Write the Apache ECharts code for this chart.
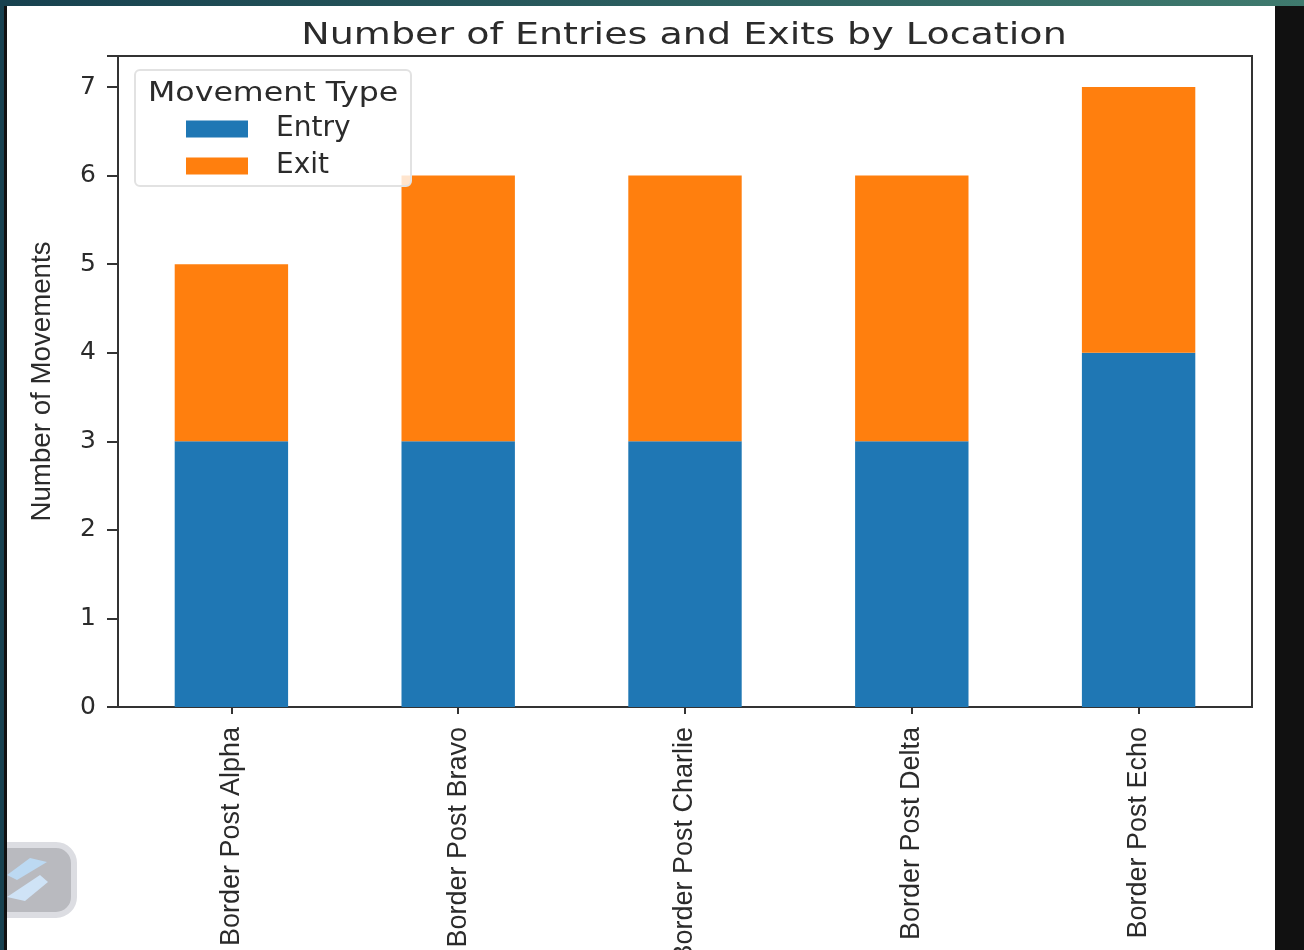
<!DOCTYPE html>
<html><head><meta charset="utf-8">
<style>html,body{margin:0;padding:0;background:#fff;overflow:hidden}#c{width:1304px;height:950px}</style>
<script src="https://cdn.jsdelivr.net/npm/echarts@6/dist/echarts.min.js"></script>
</head><body><div id="c"></div>
<script>
const categories = ["Border Post Alpha","Border Post Bravo","Border Post Charlie","Border Post Delta","Border Post Echo"];
const entry = [3,3,3,3,4];
const exit = [2,3,3,3,3];
const yTicks = [0,1,2,3,4,5,6,7];
const chartTitle = "Number of Entries and Exits by Location";
const yName = "Number of Movements";
const legendTitle = "Movement Type";
const narrow = '"Liberation Sans",sans-serif';
const wide = '"DejaVu Sans",sans-serif';
const ink = '#2b2b2b';
const chart = echarts.init(document.getElementById('c'), null, {renderer:'canvas', width:1304, height:950});
chart.setOption({
  animation:false,
  backgroundColor:'#ffffff',
  grid:{left:118, top:56, width:1134, height:651, containLabel:false, outerBoundsMode:'none', show:true, borderColor:'#333', borderWidth:2, backgroundColor:'transparent'},
  xAxis:{type:'category', data:categories,
    axisLine:{lineStyle:{color:'#333',width:2}},
    axisTick:{show:true, alignWithLabel:true, length:7, lineStyle:{color:'#333',width:2}, interval:0},
    axisLabel:{rotate:90, interval:0, margin:20, fontFamily:narrow, fontSize:27, color:ink, hideOverlap:false}},
  yAxis:{type:'value', min:0, max:7.35, interval:1, splitLine:{show:false},
    name:yName, nameLocation:'middle', nameGap:62, nameRotate:90,
    nameTextStyle:{fontFamily:narrow, fontSize:27.7, color:ink},
    axisLine:{show:true, lineStyle:{color:'#333',width:2}},
    axisTick:{show:true, length:11, lineStyle:{color:'#333',width:2}},
    axisLabel:{fontFamily:wide, fontSize:25, color:ink, margin:22, padding:[3,0,0,0],
      customValues:yTicks, formatter:v=>String(v)}},
  legend:{show:true, left:181, top:110, orient:'vertical', itemWidth:62, itemHeight:17, itemGap:9, z:20,
    icon:'rect', textStyle:{fontFamily:wide, fontSize:28, color:ink, padding:[0,0,0,23]},
    data:['Entry','Exit']},
  series:[
    {name:'Entry', type:'bar', stack:'m', barWidth:'50%', data:entry, itemStyle:{color:'#1f77b4'}},
    {name:'Exit', type:'bar', stack:'m', barWidth:'50%', data:exit, itemStyle:{color:'#ff7f0e'}}
  ],
  graphic:[
    {type:'rect', z:5, shape:{x:135,y:70,width:276,height:116,r:5}, style:{fill:'rgba(255,255,255,0.8)', stroke:'#e2e2e2', lineWidth:2}},
    {type:'text', z:11, x:148, y:94, scaleX:1.217, style:{text:legendTitle, fontFamily:wide, fontSize:26, fill:ink, align:'left', verticalAlign:'middle'}},
    {type:'text', z:11, x:684, y:36, scaleX:1.268, style:{text:chartTitle, fontFamily:wide, fontSize:30, fill:ink, align:'center', verticalAlign:'middle'}},
    {type:'rect', z:30, shape:{x:-10,y:845,width:84,height:70,r:18}, style:{fill:'#b9babf', stroke:'#dcdde2', lineWidth:6}},
    {type:'polygon', z:31, shape:{points:[[30,858],[47,862],[17,880],[7,875]]}, style:{fill:'#bcd9f2'}},
    {type:'polygon', z:31, shape:{points:[[40,875],[48,882],[25,901],[7,897]]}, style:{fill:'#cfe3f6'}},
    {type:'rect', z:40, shape:{x:0,y:0,width:1304,height:6}, style:{fill:new echarts.graphic.LinearGradient(0,0,1,0,[{offset:0,color:'#17414f'},{offset:1,color:'#3f7a6e'}])}},
    {type:'rect', z:40, shape:{x:0,y:0,width:4,height:950}, style:{fill:'#17414f'}},
    {type:'rect', z:40, shape:{x:4,y:6,width:3,height:944}, style:{fill:'#111111'}},
    {type:'rect', z:40, shape:{x:1275,y:6,width:29,height:944}, style:{fill:'#111111'}}
  ]
});
</script></body></html>
